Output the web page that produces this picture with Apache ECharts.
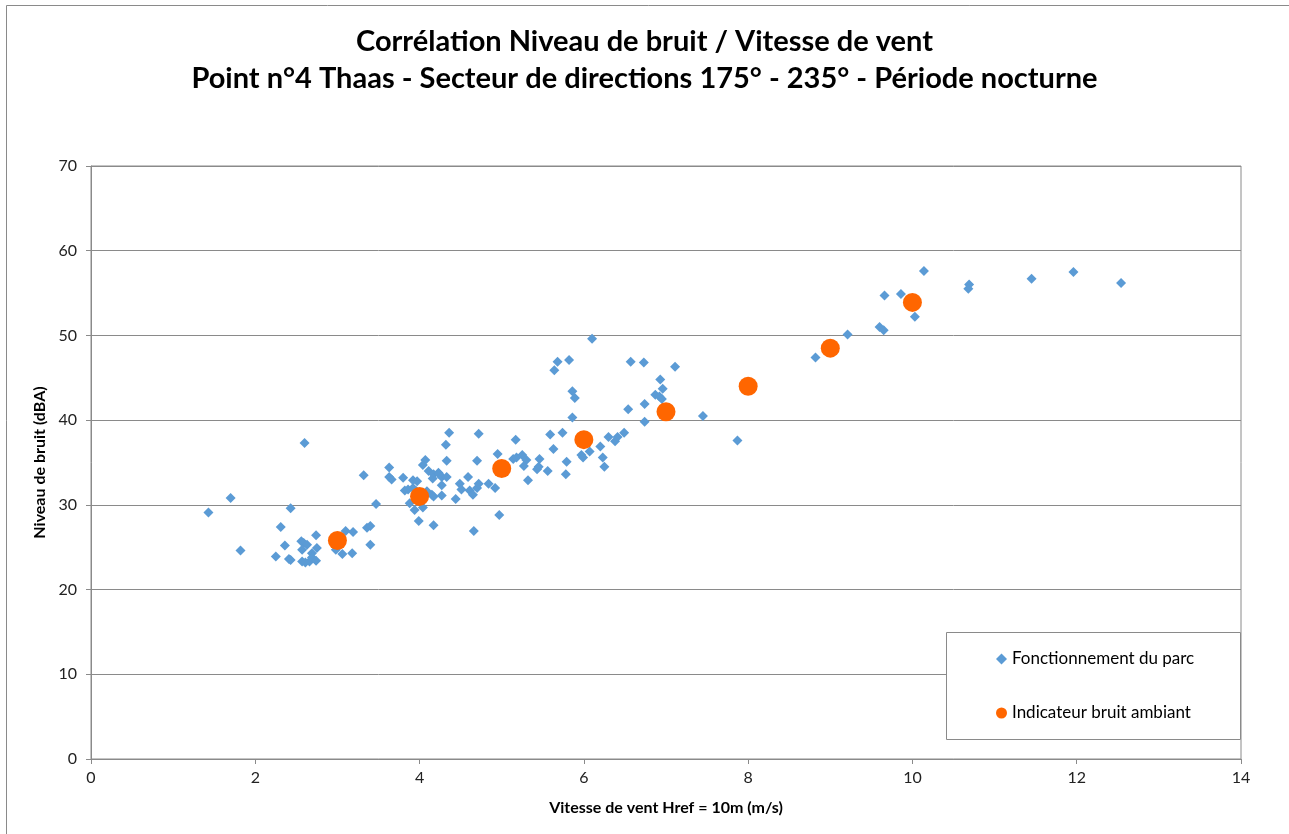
<!DOCTYPE html>
<html>
<head>
<meta charset="utf-8">
<title>Corrélation Niveau de bruit / Vitesse de vent</title>
<script src="https://cdn.jsdelivr.net/npm/echarts@6/dist/echarts.min.js"></script>
<style>
  html, body { margin: 0; padding: 0; background: #fff; }
  #chart { width: 1289px; height: 834px; }
</style>
</head>
<body>
<div id="chart"></div>
<script>
// séries
var seriesNames = ['Fonctionnement du parc', 'Indicateur bruit ambiant'];

// Fonctionnement du parc : [vitesse (m/s), niveau (dBA)]
var parcPoints = [
  [1.43, 29.1], [1.70, 30.8], [1.82, 24.6], [2.25, 23.9], [2.31, 27.4], [2.36, 25.2],
  [2.41, 23.6], [2.43, 23.5], [2.43, 29.6], [2.60, 37.3], [2.56, 25.7], [2.59, 25.5],
  [2.63, 25.3], [2.57, 24.7], [2.74, 26.4], [2.75, 24.9], [2.69, 24.3], [2.69, 23.8],
  [2.57, 23.3], [2.61, 23.2], [2.66, 23.3], [2.74, 23.4], [2.98, 24.7], [3.10, 26.9],
  [3.19, 26.8], [3.06, 24.2], [3.18, 24.3], [3.36, 27.3], [3.40, 27.5], [3.40, 25.3],
  [3.32, 33.5], [3.47, 30.1], [3.63, 34.4], [3.63, 33.3], [3.66, 33.0],
  [3.80, 33.2], [3.92, 32.9], [3.97, 32.8], [4.11, 34.0], [4.07, 35.3], [4.04, 34.7],
  [4.17, 33.6], [4.23, 33.8], [4.24, 33.6], [4.27, 33.3], [4.16, 33.1], [4.33, 33.3],
  [4.27, 32.3], [4.33, 35.2], [4.32, 37.1], [4.36, 38.5], [4.59, 33.3], [4.49, 32.5],
  [4.51, 31.8], [4.61, 31.7], [4.65, 31.2], [4.70, 32.0], [4.72, 32.5], [4.84, 32.5],
  [4.92, 32.0], [4.70, 35.2], [4.72, 38.4], [4.95, 36.0], [5.14, 35.4], [5.18, 35.6],
  [5.25, 35.9], [5.30, 35.3], [5.27, 34.6], [5.46, 35.4], [5.43, 34.2], [5.45, 34.5],
  [5.32, 32.9], [5.56, 34.0], [5.79, 35.1], [5.78, 33.6], [5.17, 37.7], [5.59, 38.3],
  [5.74, 38.5], [5.63, 36.6], [5.86, 40.3],
  [3.82, 31.7], [3.86, 31.8], [3.92, 32.0], [3.96, 31.6], [3.88, 30.2], [3.94, 29.4],
  [4.04, 29.7], [4.09, 31.6], [4.15, 31.2], [4.17, 31.0], [4.27, 31.1], [4.44, 30.7],
  [3.99, 28.1], [4.17, 27.6], [4.66, 26.9], [4.97, 28.8],
  [6.10, 49.6], [5.68, 46.9], [5.64, 45.9], [5.82, 47.1], [6.57, 46.9], [6.73, 46.8],
  [7.11, 46.3], [6.93, 44.8], [6.96, 43.7], [6.87, 43.0], [6.92, 42.8], [6.95, 42.5],
  [5.86, 43.4], [5.89, 42.6], [6.54, 41.3], [6.74, 41.9], [6.74, 39.8], [7.45, 40.5],
  [5.97, 35.9], [5.99, 35.6], [6.07, 36.3], [6.20, 36.9], [6.30, 38.0], [6.38, 37.5],
  [6.41, 38.0], [6.49, 38.5], [6.23, 35.6], [6.25, 34.5],
  [7.87, 37.6], [8.82, 47.4], [9.21, 50.1], [9.60, 51.0], [9.65, 50.6], [9.66, 54.7],
  [9.86, 54.9], [10.03, 52.2], [10.14, 57.6], [10.69, 56.0], [10.68, 55.5], [11.45, 56.7],
  [11.96, 57.5], [12.54, 56.2]
];

// Indicateur bruit ambiant
var indicVitesse = [3, 4, 5, 6, 7, 8, 9, 10];
var indicNiveau = [25.8, 31.0, 34.3, 37.7, 41.0, 44.0, 48.5, 53.9];

var xMin = 0, xMax = 14, xStep = 2;
var yMin = 0, yMax = 70, yStep = 10;

var gridColor = '#8a8a8a';
var font = 'Lato, Carlito, "Open Sans", sans-serif';

var chart = echarts.init(document.getElementById('chart'));

chart.setOption({
  animation: false,
  textStyle: { fontFamily: font },
  title: {
    text: 'Corrélation Niveau de bruit / Vitesse de vent\nPoint n°4 Thaas - Secteur de directions 175° - 235° - Période nocturne',
    left: 'center',
    top: 18,
    textStyle: {
      fontFamily: font,
      fontSize: 29,
      fontWeight: 'bold',
      color: '#000',
      lineHeight: 37
    }
  },
  graphic: {
    elements: [
      {
        // cadre du graphique
        type: 'rect',
        z: 1,
        shape: { x: 6.5, y: 5.5, width: 1300, height: 900 },
        style: { fill: 'none', stroke: gridColor, lineWidth: 1 }
      },
      {
        // cadre de la légende
        type: 'rect',
        z: 3,
        shape: { x: 946.5, y: 632.5, width: 294, height: 107 },
        style: { fill: '#fff', stroke: gridColor, lineWidth: 1 }
      }
    ]
  },
  legend: {
    data: [
      { name: seriesNames[0], icon: 'diamond' },
      { name: seriesNames[1], icon: 'circle' }
    ],
    orient: 'vertical',
    left: 996,
    top: 650,
    padding: 0,
    itemGap: 36,
    itemWidth: 11,
    itemHeight: 11,
    z: 10,
    textStyle: { fontFamily: font, fontSize: 17, color: '#000', lineHeight: 18 }
  },
  grid: {
    left: 91,
    top: 166,
    width: 1150,
    height: 593,
    show: true,
    borderColor: gridColor,
    borderWidth: 1,
    backgroundColor: 'transparent'
  },
  xAxis: {
    type: 'value',
    min: xMin,
    max: xMax,
    interval: xStep,
    name: 'Vitesse de vent Href = 10m (m/s)',
    nameLocation: 'middle',
    nameGap: 41,
    nameTextStyle: { fontFamily: font, fontSize: 16, fontWeight: 'bold', color: '#000' },
    axisLine: { show: true, lineStyle: { color: gridColor } },
    axisTick: { show: true, inside: false, length: 5, lineStyle: { color: gridColor } },
    axisLabel: { fontFamily: font, fontSize: 16, color: '#222', margin: 11 },
    splitLine: { show: false }
  },
  yAxis: {
    type: 'value',
    min: yMin,
    max: yMax,
    interval: yStep,
    name: 'Niveau de bruit (dBA)',
    nameLocation: 'middle',
    nameRotate: 90,
    nameGap: 41,
    nameTextStyle: { fontFamily: font, fontSize: 16, fontWeight: 'bold', color: '#000' },
    axisLine: { show: true, lineStyle: { color: gridColor } },
    axisTick: { show: true, inside: false, length: 5, lineStyle: { color: gridColor } },
    axisLabel: { fontFamily: font, fontSize: 16, color: '#222', margin: 14 },
    splitLine: { show: true, lineStyle: { color: gridColor, width: 1 } }
  },
  series: [
    {
      name: seriesNames[0],
      type: 'scatter',
      symbol: 'diamond',
      symbolSize: 10,
      itemStyle: { color: '#5b9bd5', opacity: 1 },
      z: 2,
      data: parcPoints
    },
    {
      name: seriesNames[1],
      type: 'scatter',
      symbol: 'circle',
      symbolSize: 19,
      itemStyle: { color: '#ff6600', opacity: 1 },
      z: 3,
      data: indicVitesse.map(function (v, i) { return [v, indicNiveau[i]]; })
    }
  ]
});
</script>
</body>
</html>
